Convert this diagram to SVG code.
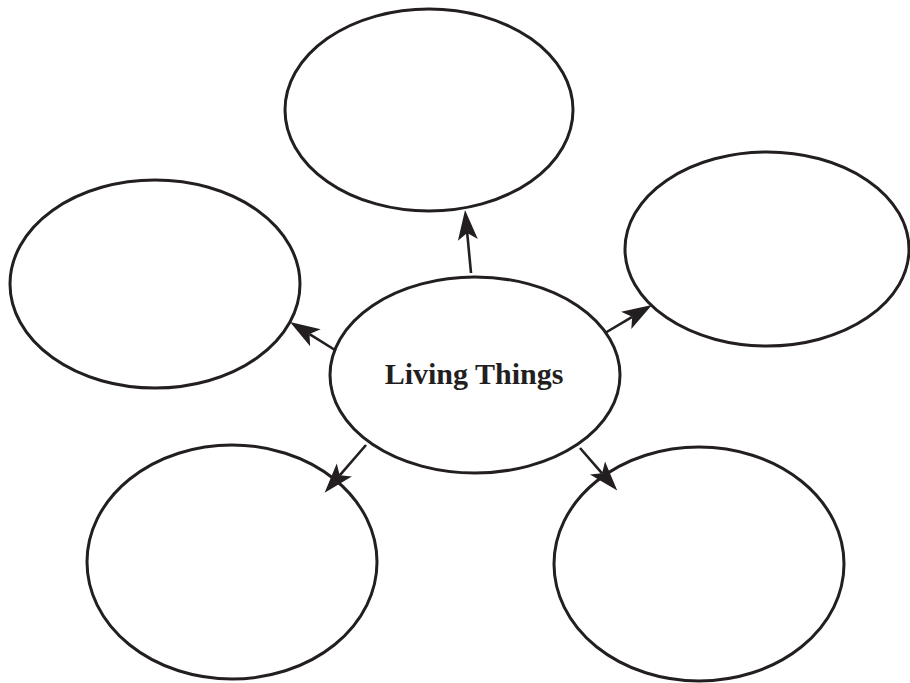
<svg xmlns="http://www.w3.org/2000/svg" width="910" height="683" viewBox="0 0 910 683">
  <style>
    .bubble { fill: #ffffff; stroke: #231f20; stroke-width: 3; }
    .link { stroke: #231f20; stroke-width: 2.6; fill: none; marker-end: url(#head); }
    .title { font-family: "Liberation Serif", "DejaVu Serif", serif; font-weight: bold; font-size: 30px; fill: #231f20; }
  </style>
  <defs>
    <!-- barbed arrowhead; the line ends at the notch, tip sits 23px further on -->
    <marker id="head" markerUnits="userSpaceOnUse" markerWidth="40" markerHeight="30" viewBox="-10 -15 40 30" refX="0" refY="0" orient="auto" overflow="visible">
      <path d="M23,0 L-7,-10 L0,0 L-7,10 Z" fill="#231f20"/>
    </marker>
  </defs>
  <rect width="910" height="683" fill="#ffffff"/>

  <g id="node-top"><ellipse class="bubble" cx="429" cy="110" rx="144" ry="101"/></g>
  <g id="node-upper-right"><ellipse class="bubble" cx="767" cy="249" rx="142" ry="97"/></g>
  <g id="node-left"><ellipse class="bubble" cx="155" cy="284" rx="145" ry="104"/></g>
  <g id="node-bottom-left"><ellipse class="bubble" cx="232" cy="562" rx="145" ry="117"/></g>
  <g id="node-bottom-right"><ellipse class="bubble" cx="699" cy="564" rx="145" ry="117"/></g>
  <g id="node-center">
    <ellipse class="bubble" cx="475" cy="375" rx="145" ry="98"/>
    <text class="title" x="474" y="384" text-anchor="middle">Living Things</text>
  </g>

  <g id="connectors">
    <line class="link" x1="471" y1="273" x2="467.2" y2="232.9"/>
    <line class="link" x1="335" y1="350" x2="309.5" y2="334.1"/>
    <line class="link" x1="605" y1="333" x2="632.2" y2="316.8"/>
    <line class="link" x1="366" y1="445" x2="339.7" y2="475.3"/>
    <line class="link" x1="580" y1="448" x2="602.1" y2="473.3"/>
  </g>
</svg>
